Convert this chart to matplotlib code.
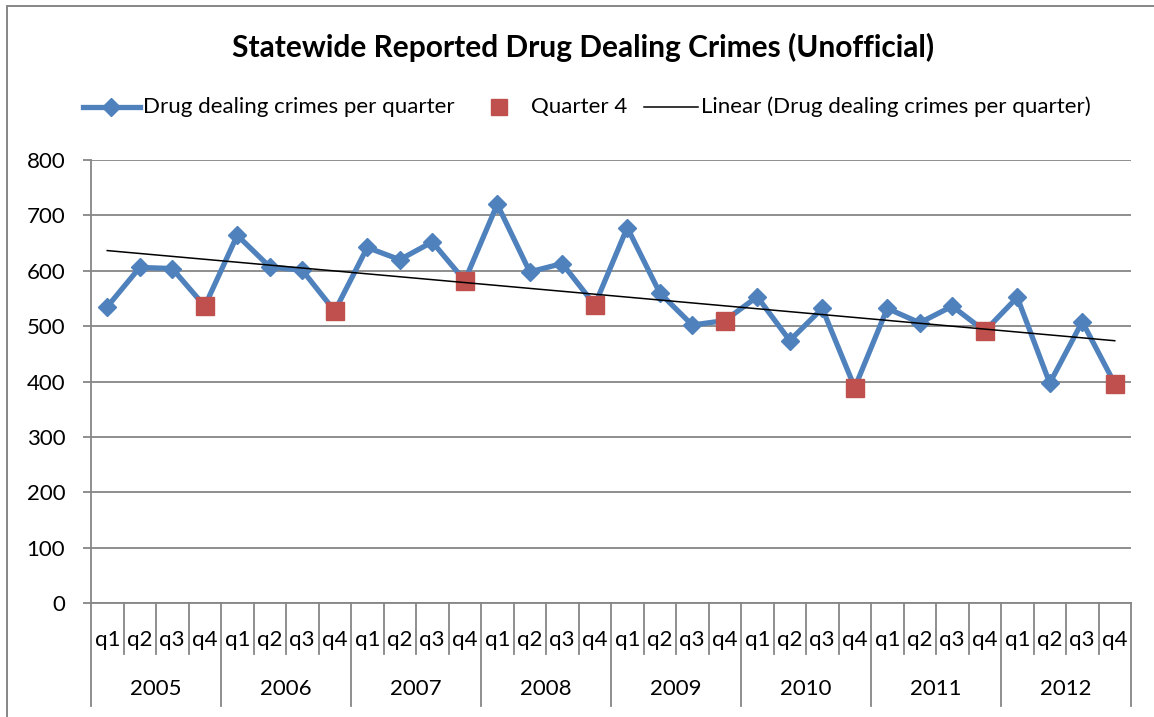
import numpy as np
import matplotlib
matplotlib.use("Agg")
import matplotlib.pyplot as plt
from matplotlib.lines import Line2D
from matplotlib.patches import Rectangle
from matplotlib.transforms import blended_transform_factory

# ---------------- data ----------------
years = ["2005", "2006", "2007", "2008", "2009", "2010", "2011", "2012"]
quarters = ["q1", "q2", "q3", "q4"]
crimes = [535, 606, 604, 536,
          664, 607, 601, 527,
          642, 620, 652, 582,
          720, 598, 613, 538,
          678, 560, 502, 510,
          553, 474, 532, 389,
          532, 506, 536, 491,
          552, 397, 508, 396]
yticks = [0, 100, 200, 300, 400, 500, 600, 700, 800]

title = "Statewide Reported Drug Dealing Crimes (Unofficial)"
series_label = "Drug dealing crimes per quarter"
q4_label = "Quarter 4"
trend_label = "Linear (Drug dealing crimes per quarter)"

BLUE = "#4F81BD"
RED = "#C0504D"
GRID = "#868686"
FONT = "Lato"
FS = 16

plt.rcParams["font.family"] = [FONT, "DejaVu Sans"]

W, H = 1154, 717
fig = plt.figure(figsize=(W / 100, H / 100), dpi=100)
fig.patch.set_facecolor("white")

# outer chart frame (only top/left visible)
fig.patches.append(Rectangle((7 / W, -0.2), 1.5, 1 - 6 / H + 0.2,
                             transform=fig.transFigure, fill=False,
                             edgecolor=GRID, linewidth=1.4))

left, right, top, bottom = 91, 1131, 160, 603
ax = fig.add_axes([left / W, 1 - bottom / H, (right - left) / W, (bottom - top) / H])

n = len(crimes)
x = np.arange(n)
ax.set_xlim(-0.5, n - 0.5)
ax.set_ylim(0, 800)

# gridlines
for yv in yticks:
    ax.axhline(yv, color=GRID, lw=1.3, zorder=1)
for s in ["top", "right", "bottom"]:
    ax.spines[s].set_visible(False)
ax.spines["left"].set_color(GRID)
ax.spines["left"].set_linewidth(1.3)
ax.set_yticks(yticks)
ax.tick_params(axis="y", length=5.5, width=1.3, color=GRID, labelsize=FS, pad=13,
               labelcolor="black")
ax.set_xticks([])

# series
ax.plot(x, crimes, color=BLUE, lw=3.8, marker="D", markersize=9.5,
        markerfacecolor=BLUE, markeredgecolor=BLUE, zorder=3,
        label=series_label)
q4_idx = x[3::4]
q4_vals = np.array(crimes)[3::4]
ax.plot(q4_idx, q4_vals, linestyle="none", marker="s", markersize=13.5,
        markerfacecolor=RED, markeredgecolor=RED, zorder=4, label=q4_label)
coef = np.polyfit(x, crimes, 1)
ax.plot(x, np.polyval(coef, x), color="black", lw=1.1, zorder=5, label=trend_label)

# category axis (two-level)
tr = blended_transform_factory(ax.transData, fig.transFigure)
q_bottom = 1 - 654 / H
y_bottom = 1 - 706 / H
ax_bottom = 1 - bottom / H
for b in range(n + 1):
    xb = b - 0.5
    yb = y_bottom if b % 4 == 0 else q_bottom
    fig.add_artist(Line2D([xb, xb], [ax_bottom, yb], transform=tr,
                          color=GRID, lw=1.3))
for i in range(n):
    fig.text(i, 1 - 640 / H, quarters[i % 4], transform=tr, ha="center",
             va="center", fontsize=FS)
for j, yr in enumerate(years):
    fig.text(4 * j + 1.5, 1 - 689 / H, yr, transform=tr, ha="center",
             va="center", fontsize=FS)
fig.add_artist(Line2D([-0.5, n - 0.5], [ax_bottom, ax_bottom], transform=tr,
                      color=GRID, lw=1.3))

# title
fig.text(583 / W, 1 - 47 / H, title, ha="center", va="center",
         fontsize=21.5, fontweight="bold")

# legend (laid out like the Excel legend row)
ly = 1 - 107 / H
fig.add_artist(Line2D([83 / W, 140 / W], [ly, ly], transform=fig.transFigure,
                      color=BLUE, lw=3.8))
fig.add_artist(Line2D([111 / W], [ly], transform=fig.transFigure,
                      marker="D", markersize=9.5, color=BLUE, linestyle="none"))
fig.text(143 / W, ly, series_label, ha="left", va="center", fontsize=FS)
fig.add_artist(Line2D([499 / W], [ly], transform=fig.transFigure,
                      marker="s", markersize=11, color=RED, linestyle="none"))
fig.text(531 / W, ly, q4_label, ha="left", va="center", fontsize=FS)
fig.add_artist(Line2D([644 / W, 698 / W], [ly, ly], transform=fig.transFigure,
                      color="black", lw=1.1))
fig.text(701 / W, ly, trend_label, ha="left", va="center", fontsize=FS)

fig.savefig("out.png", dpi=100, facecolor="white")
